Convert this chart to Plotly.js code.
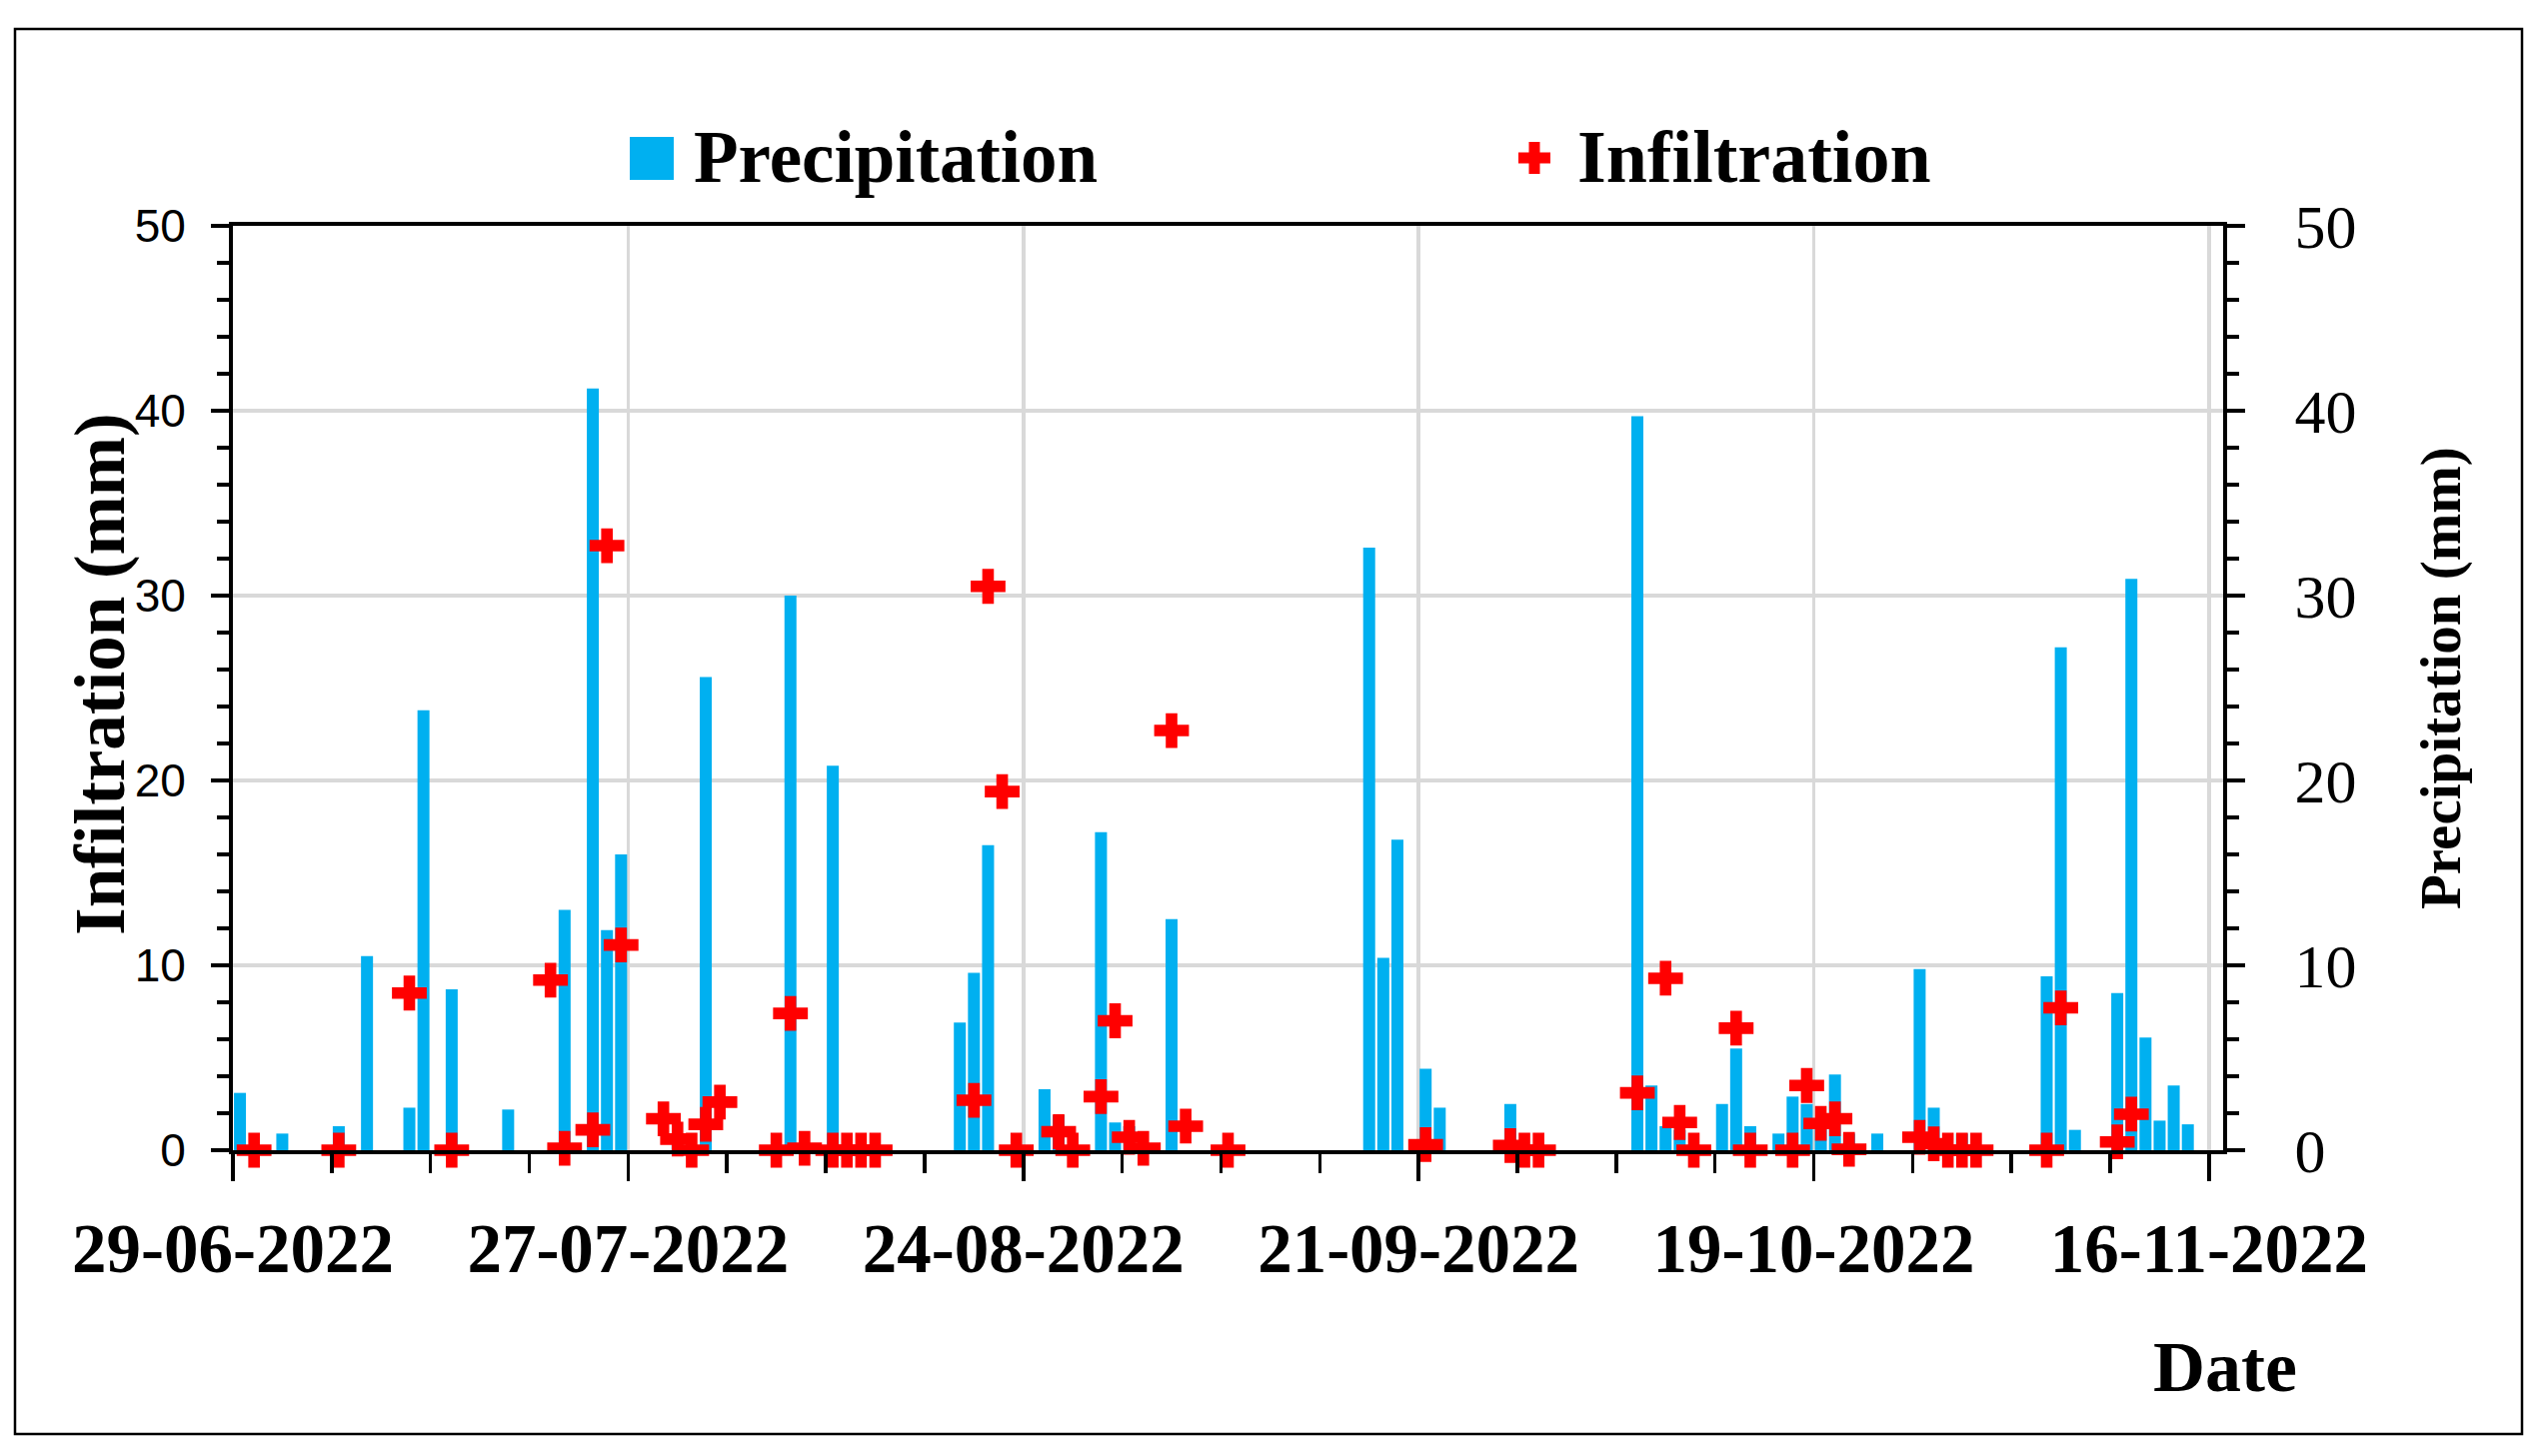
<!DOCTYPE html>
<html>
<head>
<meta charset="utf-8">
<script src="https://cdn.plot.ly/plotly-3.0.1.min.js"></script>
<style>
  html, body { margin: 0; padding: 0; background: #fff; }
  #chart { width: 2544px; height: 1457px; }
</style>
</head>
<body>
<div id="chart"></div>
<script>
// ---- data ----
const precipDates = ['2022-06-29','2022-07-02','2022-07-06','2022-07-08','2022-07-11','2022-07-12','2022-07-14','2022-07-18','2022-07-22','2022-07-24','2022-07-25','2022-07-26','2022-07-30','2022-08-01','2022-08-07','2022-08-10','2022-08-19','2022-08-20','2022-08-21','2022-08-25','2022-08-26','2022-08-29','2022-08-30','2022-08-31','2022-09-03','2022-09-17','2022-09-18','2022-09-19','2022-09-21','2022-09-22','2022-09-27','2022-10-06','2022-10-07','2022-10-08','2022-10-09','2022-10-12','2022-10-13','2022-10-14','2022-10-16','2022-10-17','2022-10-18','2022-10-19','2022-10-20','2022-10-21','2022-10-23','2022-10-26','2022-10-27','2022-10-29','2022-11-04','2022-11-05','2022-11-06','2022-11-09','2022-11-10','2022-11-11','2022-11-12','2022-11-13','2022-11-14'];
const precipValues = [3.1,0.9,1.3,10.5,2.3,23.8,8.7,2.2,13.0,41.2,11.9,16.0,0.9,25.6,30.0,20.8,6.9,9.6,16.5,3.3,1.9,17.2,1.5,1.3,12.5,32.6,10.4,16.8,4.4,2.3,2.5,39.7,3.5,1.3,1.1,2.5,5.5,1.3,0.9,2.9,2.5,1.2,4.1,0.9,0.9,9.8,2.3,0.9,9.4,27.2,1.1,8.5,30.9,6.1,1.6,3.5,1.4];

const infilDates = ['2022-06-30','2022-07-06','2022-07-11','2022-07-14','2022-07-21','2022-07-22','2022-07-24','2022-07-25','2022-07-26','2022-07-29','2022-07-30','2022-07-31','2022-08-01','2022-08-02','2022-08-06','2022-08-07','2022-08-08','2022-08-10','2022-08-11','2022-08-12','2022-08-13','2022-08-20','2022-08-21','2022-08-22','2022-08-23','2022-08-26','2022-08-27','2022-08-29','2022-08-30','2022-08-31','2022-09-01','2022-09-03','2022-09-04','2022-09-07','2022-09-21','2022-09-27','2022-09-28','2022-09-29','2022-10-06','2022-10-08','2022-10-09','2022-10-10','2022-10-13','2022-10-14','2022-10-17','2022-10-18','2022-10-19','2022-10-20','2022-10-21','2022-10-26','2022-10-27','2022-10-28','2022-10-29','2022-10-30','2022-11-04','2022-11-05','2022-11-09','2022-11-10'];
const infilValues = [0,0,8.5,0,9.2,0.1,1.1,32.7,11.1,1.7,0.6,0,1.4,2.6,0,7.4,0.1,0,0,0,0,2.7,30.5,19.4,0,1.0,0,2.9,7.0,0.7,0.1,22.7,1.3,0,0.3,0.25,0,0,3.1,9.3,1.5,0,6.6,0,0,3.5,1.45,1.7,0.05,0.7,0.35,0,0,0,0,7.7,0.45,1.95];

const seriesNames = ['Precipitation', 'Infiltration'];
const yTitles = ['Infiltration (mm)', 'Precipitation (mm)'];
const xTitle = 'Date';
const xStart = '2022-06-29';
const xEnd = '2022-11-17';

// ---- styling ----
const DAY = 86400000;
const BLUE = '#00B0F0';
const RED = '#FF0000';
const SERIF = 'Liberation Serif, Times New Roman, serif';
const SANS = 'Liberation Sans, Arial, sans-serif';

// plot box in page pixels
const W = 2544, H = 1457;
const L = 233, R = 2224, T = 226, B = 1151;
const px = v => (v - L) / (R - L);
const py = v => (B - v) / (B - T);

const traces = [
  {
    type: 'bar', name: seriesNames[0],
    x: precipDates, y: precipValues,
    xperiod: DAY, xperiodalignment: 'middle',
    marker: { color: BLUE, line: { width: 0 } },
    yaxis: 'y', showlegend: false
  },
  {
    type: 'scatter', mode: 'markers', name: seriesNames[1],
    x: infilDates, y: infilValues,
    xperiod: DAY, xperiodalignment: 'middle',
    marker: { symbol: 'cross', size: 29, color: RED, line: { width: 0 } },
    yaxis: 'y2', cliponaxis: false, showlegend: false
  }
];

const yCommon = {
  range: [0, 50], dtick: 10, tick0: 0,
  ticks: 'outside', ticklen: 18, tickwidth: 3.5, tickcolor: 'black',
  showline: true, linewidth: 4, linecolor: 'black',
  zeroline: false, fixedrange: true,
  minor: { dtick: 2, tick0: 0, ticks: 'outside', ticklen: 12, tickwidth: 3.5, tickcolor: 'black', showgrid: false }
};

const titleFont = s => ({ family: SERIF, size: s, weight: 700, color: 'black' });

const layout = {
  width: W, height: H,
  margin: { l: L, r: W - R, t: T, b: H - B, pad: 0 },
  paper_bgcolor: 'white', plot_bgcolor: 'white',
  bargap: 0.15,
  showlegend: false,
  xaxis: {
    type: 'date', range: [xStart, xEnd],
    tick0: xStart, dtick: 28 * DAY, tickformat: '%d-%m-%Y',
    ticks: 'outside', ticklen: 27, tickwidth: 3.5, tickcolor: 'black',
    ticklabelstandoff: 8,
    showline: true, linewidth: 4, linecolor: 'black', mirror: true,
    showgrid: true, gridcolor: '#d9d9d9', gridwidth: 3.5,
    zeroline: false, fixedrange: true,
    minor: { tick0: xStart, dtick: 7 * DAY, ticks: 'outside', ticklen: 19, tickwidth: 3.5, tickcolor: 'black', showgrid: false },
    tickfont: { family: SERIF, size: 69, weight: 700, color: 'black' }
  },
  yaxis: Object.assign({}, yCommon, {
    side: 'left',
    showgrid: true, gridcolor: '#d9d9d9', gridwidth: 3.5,
    ticklabelstandoff: 16,
    tickfont: { family: SANS, size: 46, color: 'black' }
  }),
  yaxis2: Object.assign({}, yCommon, {
    side: 'right', overlaying: 'y',
    showgrid: false,
    ticklabelstandoff: 37,
    tickfont: { family: SERIF, size: 62, color: 'black' }
  }),
  shapes: [
    // outer frame
    { type: 'rect', xref: 'paper', yref: 'paper', x0: px(15), x1: px(2523), y0: py(1435), y1: py(29),
      line: { color: 'black', width: 2.5 }, fillcolor: 'rgba(0,0,0,0)', layer: 'below' },
    // legend: precipitation swatch
    { type: 'rect', xref: 'paper', yref: 'paper', x0: px(630), x1: px(674), y0: py(180), y1: py(137),
      line: { width: 0 }, fillcolor: BLUE },
    // legend: infiltration cross
    { type: 'path', xref: 'paper', yref: 'paper', xsizemode: 'pixel', ysizemode: 'pixel',
      xanchor: px(1535), yanchor: py(158),
      path: 'M-16,-5.5H-5.5V-16H5.5V-5.5H16V5.5H5.5V16H-5.5V5.5H-16Z',
      line: { width: 0 }, fillcolor: RED }
  ],
  annotations: [
    { text: seriesNames[0], xref: 'paper', yref: 'paper', x: px(692), y: py(157), xanchor: 'left', yanchor: 'middle',
      showarrow: false, font: titleFont(73) },
    { text: seriesNames[1], xref: 'paper', yref: 'paper', x: px(1576), y: py(157), xanchor: 'left', yanchor: 'middle',
      showarrow: false, font: titleFont(74) },
    { text: xTitle, xref: 'paper', yref: 'paper', x: px(2300), y: py(1368), xanchor: 'right', yanchor: 'middle',
      showarrow: false, font: titleFont(72) },
    // axis titles
    { text: yTitles[0], xref: 'paper', yref: 'paper', x: px(100), y: py(675), xanchor: 'center', yanchor: 'middle',
      textangle: -90, showarrow: false, font: titleFont(71) },
    { text: yTitles[1], xref: 'paper', yref: 'paper', x: px(2442), y: py(679), xanchor: 'center', yanchor: 'middle',
      textangle: -90, showarrow: false, font: titleFont(57) }
  ]
};

Plotly.newPlot('chart', traces, layout, { staticPlot: true, displayModeBar: false });
</script>
</body>
</html>
